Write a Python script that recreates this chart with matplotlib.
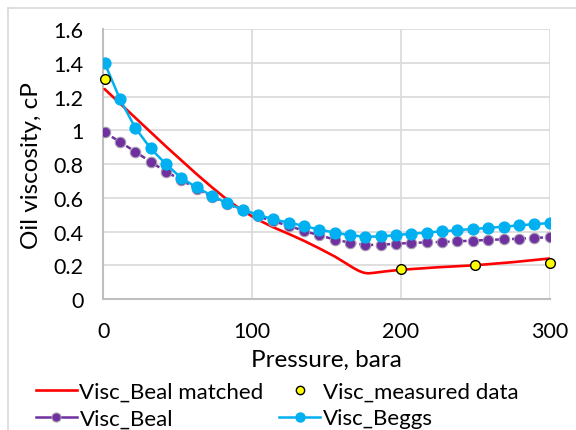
import matplotlib
matplotlib.use("Agg")
import matplotlib.pyplot as plt
from matplotlib.lines import Line2D

pressure = [1.0, 11.3, 21.6, 31.9, 42.2, 52.6, 62.9, 73.2, 83.5, 93.8,
            104.1, 114.4, 124.7, 135.0, 145.3, 155.7, 166.0, 176.3, 186.6, 196.9,
            207.2, 217.5, 227.8, 238.1, 248.4, 258.8, 269.1, 279.4, 289.7, 300.0]

visc_beggs = [1.40, 1.186, 1.015, 0.893, 0.800, 0.717, 0.662, 0.612, 0.567, 0.529,
              0.500, 0.472, 0.453, 0.433, 0.411, 0.394, 0.378, 0.369, 0.371, 0.379,
              0.387, 0.394, 0.401, 0.408, 0.415, 0.421, 0.429, 0.436, 0.444, 0.450]

visc_beal = [0.988, 0.932, 0.873, 0.814, 0.755, 0.705, 0.655, 0.605, 0.565, 0.525,
             0.490, 0.460, 0.435, 0.403, 0.378, 0.352, 0.334, 0.320, 0.321, 0.328,
             0.332, 0.336, 0.338, 0.342, 0.346, 0.350, 0.354, 0.357, 0.362, 0.366]

matched_p = [1.0, 11.3, 21.6, 31.9, 42.2, 52.6, 62.9, 73.2, 83.5, 93.8,
             104.1, 114.4, 124.7, 135.0, 145.3, 155.7, 162.0, 168.0, 172.0, 175.0,
             178.0, 182.0, 190.0, 200.0, 225.0, 250.0, 275.0, 300.0]
visc_matched = [1.245, 1.160, 1.075, 0.990, 0.905, 0.822, 0.740, 0.662, 0.588, 0.523,
                0.470, 0.425, 0.386, 0.345, 0.300, 0.252, 0.218, 0.185, 0.166, 0.156,
                0.152, 0.155, 0.164, 0.173, 0.188, 0.200, 0.218, 0.240]

meas_p = [1.0, 200.0, 250.0, 300.0]
visc_meas = [1.304, 0.180, 0.200, 0.214]

xticks = [0, 100, 200, 300]
yticks = [0, 0.2, 0.4, 0.6, 0.8, 1.0, 1.2, 1.4, 1.6]
ytick_labels = ["0", "0.2", "0.4", "0.6", "0.8", "1", "1.2", "1.4", "1.6"]

plt.rcParams['font.family'] = ['Lato', 'DejaVu Sans']

fig = plt.figure(figsize=(5.76, 4.31), dpi=100)
ax = fig.add_axes([0.179, 0.304, 0.775, 0.626])

RED = "#FF0000"
PURPLE = "#7030A0"
BLUE = "#00B0F0"

ax.plot(matched_p, visc_matched, color=RED, lw=1.9, zorder=3,
        solid_capstyle='round', solid_joinstyle='round')
ax.plot(pressure, visc_beal, color=PURPLE, lw=1.8, dashes=(2.2, 1.2),
        marker='o', markersize=7.5, markerfacecolor=PURPLE,
        markeredgecolor='#A39BB0', markeredgewidth=0.8, zorder=4)
ax.plot(pressure, visc_beggs, color=BLUE, lw=1.8, marker='o', markersize=7.8,
        markerfacecolor=BLUE, markeredgecolor=BLUE, zorder=5)
ax.plot(meas_p, visc_meas, linestyle='none', marker='o', markersize=7,
        markerfacecolor="#FFFF00", markeredgecolor='black', markeredgewidth=1.0,
        zorder=6, clip_on=False)

ax.set_xlim(0, 300)
ax.set_ylim(0, 1.6)
ax.set_xticks(xticks)
ax.set_yticks(yticks)
ax.set_yticklabels(ytick_labels)
ax.grid(True, color='#D9D9D9', lw=1.2, zorder=0)
ax.set_axisbelow(True)
for s in ['top', 'right']:
    ax.spines[s].set_visible(False)
for s in ['left', 'bottom']:
    ax.spines[s].set_color('#BFBFBF')
    ax.spines[s].set_linewidth(1.5)
ax.tick_params(length=0, labelsize=15.5, colors='black')
ax.tick_params(axis='y', pad=14)
ax.tick_params(axis='x', pad=15.5)

ax.set_xlabel("Pressure, bara", fontsize=17.5, labelpad=6)
ax.set_ylabel("Oil viscosity, cP", fontsize=17.5, labelpad=8)

handles = [
    Line2D([], [], color=RED, lw=1.9),
    Line2D([], [], color=PURPLE, lw=1.8, marker='o', markersize=6.5,
           markerfacecolor=PURPLE, markeredgecolor='#A39BB0', markeredgewidth=0.8),
    Line2D([], [], linestyle='none', marker='o', markersize=6,
           markerfacecolor="#FFFF00", markeredgecolor='black'),
    Line2D([], [], color=BLUE, lw=1.8, marker='o', markersize=6.5,
           markerfacecolor=BLUE, markeredgecolor=BLUE),
]
labels = ["Visc_Beal matched", "Visc_Beal", "Visc_measured data", "Visc_Beggs"]
fig.legend(handles, labels, ncol=2, loc='upper left', bbox_to_anchor=(0.062, 0.111),
           frameon=False, fontsize=16, handlelength=1.85, handletextpad=0.12,
           columnspacing=0.7, labelspacing=0.28, borderaxespad=0, borderpad=0)

# chart-area border (Excel style)
fig.add_artist(Line2D([8/576, 8/576], [0, 1 - 9/431], transform=fig.transFigure,
                      color='#D9D9D9', lw=1.2))
fig.add_artist(Line2D([8/576, 1], [1 - 9/431, 1 - 9/431], transform=fig.transFigure,
                      color='#D9D9D9', lw=1.2))

fig.savefig("out.png", dpi=100)
